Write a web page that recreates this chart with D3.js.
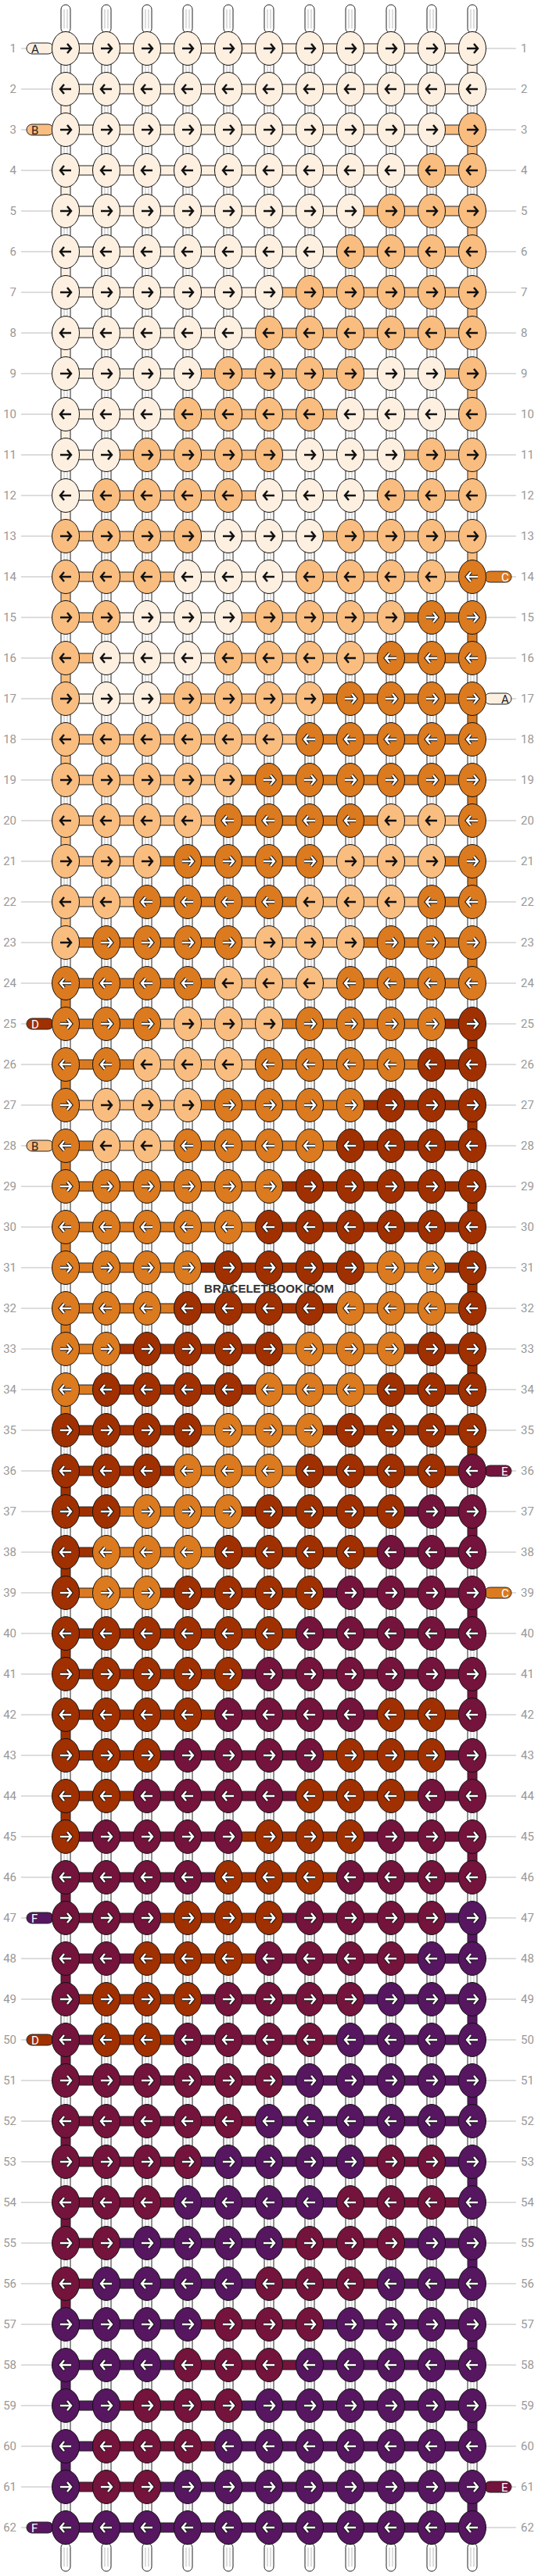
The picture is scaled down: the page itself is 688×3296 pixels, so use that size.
<!DOCTYPE html>
<html>
<head>
<meta charset="utf-8">
<script src="https://cdn.jsdelivr.net/npm/d3@7"></script>
<style>
  body { margin: 0; background: #fff; }
  svg { display: block; }
</style>
</head>
<body>
<div id="chart"></div>
<script>
// knot colours per row, one letter per knot (11 knots a row)
const rowColors = [
  "AAAAAAAAAAA", "AAAAAAAAAAA", "AAAAAAAAAAB", "AAAAAAAAABB", "AAAAAAAABBB",
  "AAAAAAABBBB", "AAAAAABBBBB", "AAAAABBBBBB", "AAAABBBBAAB", "AAABBBBAAAB",
  "AABBBBAAABB", "ABBBBAAABBB", "BBBBAAABBBB", "BBBAAABBBBC", "BBAAABBBBCC",
  "BAAABBBBCCC", "BAABBBBCCCC", "BBBBBBCCCCC", "BBBBBCCCCCC", "BBBBCCCCBBC",
  "BBBCCCCBBBC", "BBCCCCBBBCC", "BCCCCBBBCCC", "CCCCBBBCCCC", "CCCBBBCCCCD",
  "CCBBBCCCCDD", "CBBBCCCCDDD", "CBBCCCCDDDD", "CCCCCCDDDDD", "CCCCCDDDDDD",
  "CCCCDDDDCCD", "CCCDDDDCCCD", "CCDDDDCCCDD", "CDDDDCCCDDD", "DDDDCCCDDDD",
  "DDDCCCDDDDE", "DDCCCDDDDEE", "DCCCDDDDEEE", "DCCDDDDEEEE", "DDDDDDEEEEE",
  "DDDDDEEEEEE", "DDDDEEEEDDE", "DDDEEEEDDDE", "DDEEEEDDDEE", "DEEEEDDDEEE",
  "EEEEDDDEEEE", "EEEDDDEEEEF", "EEDDDEEEEFF", "EDDDEEEEFFF", "EDDEEEEFFFF",
  "EEEEEEFFFFF", "EEEEEFFFFFF", "EEEEFFFFEEF", "EEEFFFFEEEF", "EEFFFFEEEFF",
  "EFFFFEEEFFF", "FFFFEEEFFFF", "FFFEEEFFFFF", "FFEEEFFFFFF", "FEEEFFFFFFF",
  "FEEFFFFFFFF", "FFFFFFFFFFF"
];

const strandColors = {
  A: "#fdf0e1", B: "#f9bd80", C: "#db7a1f",
  D: "#a03000", E: "#74133c", F: "#561660"
};
const lightStrands = ["A", "B"];

// strands that enter at the side of a row: [row, side, strand]
const edgeStrands = [
  [1, "left", "A"], [3, "left", "B"], [14, "right", "C"], [17, "right", "A"],
  [25, "left", "D"], [28, "left", "B"], [36, "right", "E"], [39, "right", "C"],
  [47, "left", "F"], [50, "left", "D"], [61, "right", "E"], [62, "left", "F"]
];

const width = 688, height = 3296;
const nRows = rowColors.length, nCols = rowColors[0].length;
const x = d3.scaleLinear().domain([0, nCols - 1]).range([84, 604]);
const y = d3.scaleLinear().domain([1, nRows]).range([62, 62 + 52 * (nRows - 1)]);
const rx = 17.5, ry = 21.5;

const svg = d3.select("#chart").append("svg")
  .attr("width", width).attr("height", height);

const cells = rowColors.flatMap((s, r) =>
  s.split("").map((c, i) => ({ row: r + 1, col: i, c })));

// row labels and guide lines
const rowsIdx = d3.range(1, nRows + 1);
const labels = svg.append("g").attr("font-family", "Roboto, sans-serif")
  .attr("font-size", 15).attr("fill", "#999");
rowsIdx.forEach(r => {
  labels.append("line").attr("x1", 27).attr("x2", x(0) - rx)
    .attr("y1", y(r)).attr("y2", y(r)).attr("stroke", "#bbb");
  labels.append("line").attr("x1", x(nCols - 1) + rx).attr("x2", 660)
    .attr("y1", y(r)).attr("y2", y(r)).attr("stroke", "#bbb");
  labels.append("text").attr("x", 21).attr("y", y(r) + 5)
    .attr("text-anchor", "end").text(r);
  labels.append("text").attr("x", 666).attr("y", y(r) + 5).text(r);
});

// vertical strands at top and bottom
const vert = svg.append("g");
d3.range(nCols).forEach(i => {
  [[6, y(1) - ry + 2], [y(nRows) + ry - 2, height - 6]].forEach(([a, b]) => {
    vert.append("rect").attr("x", x(i) - 6).attr("y", a)
      .attr("width", 12).attr("height", b - a).attr("rx", 6)
      .attr("fill", "#fff").attr("stroke", "#222");
    vert.append("line").attr("x1", x(i) - 2).attr("x2", x(i) - 2)
      .attr("y1", a + 6).attr("y2", b - 6).attr("stroke", "#bbb");
    vert.append("line").attr("x1", x(i) + 2).attr("x2", x(i) + 2)
      .attr("y1", a + 6).attr("y2", b - 6).attr("stroke", "#bbb");
  });
});

// vertical connectors between rows
const conn = svg.append("g");
for (let r = 1; r < nRows; r++) {
  for (let i = 0; i < nCols; i++) {
    const turn = (i === 0 && r % 2 === 0) || (i === nCols - 1 && r % 2 === 1);
    const top = y(r) + ry - 3, bot = y(r + 1) - ry + 3;
    conn.append("rect").attr("x", x(i) - 6).attr("y", top)
      .attr("width", 12).attr("height", bot - top)
      .attr("fill", turn ? strandColors[rowColors[r - 1][i]] : "#fff")
      .attr("stroke", "#222");
    if (!turn) {
      [-2, 2].forEach(dx => conn.append("line")
        .attr("x1", x(i) + dx).attr("x2", x(i) + dx)
        .attr("y1", top).attr("y2", bot).attr("stroke", "#bbb"));
    }
  }
}

// horizontal connectors
cells.filter(d => d.col < nCols - 1).forEach(d => {
  const s = rowColors[d.row - 1];
  const c = d.row % 2 === 1 ? s[d.col + 1] : s[d.col];
  conn.append("rect").attr("x", x(d.col) + rx - 2).attr("y", y(d.row) - 6)
    .attr("width", x(d.col + 1) - x(d.col) - 2 * rx + 4).attr("height", 12)
    .attr("fill", strandColors[c]).attr("stroke", "#222");
});

// strands entering at the sides
edgeStrands.forEach(([r, side, s]) => {
  const x0 = side === "left" ? 34 : x(nCols - 1) + rx - 2;
  const x1 = side === "left" ? x(0) - rx + 2 : 654;
  conn.append("rect").attr("x", x0).attr("y", y(r) - 7)
    .attr("width", x1 - x0).attr("height", 14).attr("rx", 7)
    .attr("fill", strandColors[s]).attr("stroke", "#222");
  conn.append("text").attr("x", side === "left" ? 40 : 641).attr("y", y(r) + 6)
    .attr("font-family", "Roboto, sans-serif").attr("font-size", 15)
    .attr("fill", lightStrands.includes(s) ? "#222" : "#fff").text(s);
});

// knots
const knots = svg.append("g").selectAll("g").data(cells).join("g")
  .attr("transform", d => `translate(${x(d.col)},${y(d.row)})`);
knots.append("ellipse").attr("rx", rx).attr("ry", ry)
  .attr("fill", d => strandColors[d.c]).attr("stroke", "#111");
const arrow = d => d.row % 2 === 1
  ? "M-7,0H7M2,-6L7,0L2,6" : "M7,0H-7M-2,-6L-7,0L-2,6";
knots.filter(d => !lightStrands.includes(d.c)).append("path")
  .attr("d", arrow).attr("fill", "none").attr("stroke", "#111")
  .attr("stroke-width", 4.5);
knots.append("path").attr("d", arrow).attr("fill", "none")
  .attr("stroke", d => lightStrands.includes(d.c) ? "#111" : "#fff")
  .attr("stroke-width", 2.5);

svg.append("text").attr("x", 344).attr("y", 1654).attr("text-anchor", "middle")
  .attr("font-family", "Liberation Sans, Arial, sans-serif").attr("font-weight", "bold")
  .attr("font-size", 15).attr("fill", "#333").text("BRACELETBOOK.COM");
</script>
</body>
</html>
